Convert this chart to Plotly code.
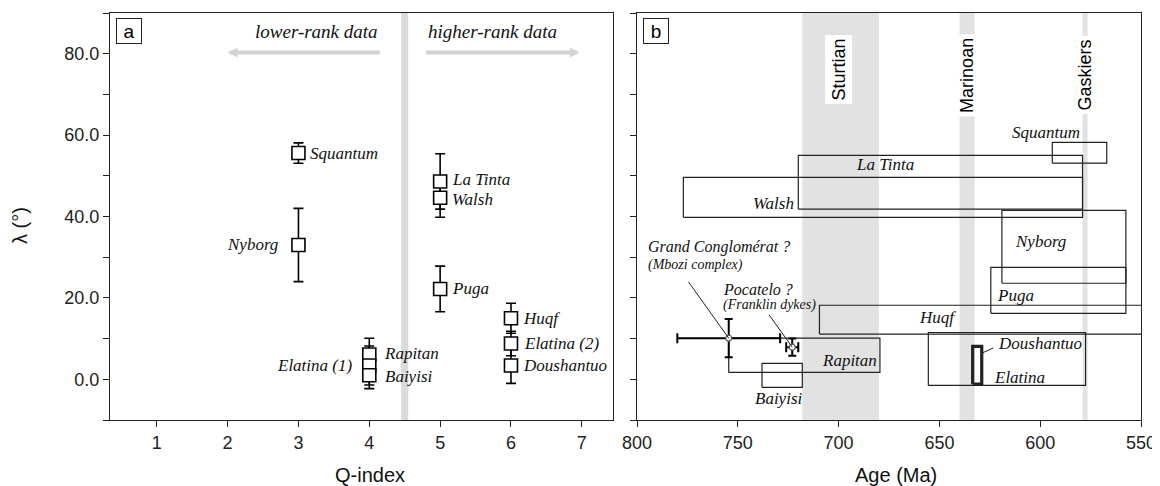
import plotly.graph_objects as go

# ---------------- data: panel a ----------------
qa_names = ["Squantum", "Nyborg", "La Tinta", "Walsh", "Puga", "Rapitan",
            "Elatina (1)", "Baiyisi", "Huqf", "Elatina (2)", "Doushantuo"]
qa_q = [3, 3, 5, 5, 5, 4, 4, 4, 6, 6, 6]
qa_lat = [55.6, 33.0, 48.6, 44.6, 22.2, 6.1, 3.4, 1.0, 15.0, 8.8, 3.4]
qa_err = [2.5, 9.0, 6.8, 4.8, 5.6, 4.0, 4.8, 3.3, 3.7, 3.0, 4.4]

# label placement (style, not data)
qa_side = ["left", "right", "left", "left", "left", "left",
           "right", "left", "left", "left", "left"]   # xanchor of label
qa_shift = [10, -18, 10, 10, 10, 13, -15, 14, 10, 11, 10]
qa_yshift = [0, 0, 2, -2, 0, 1, 0, -1, 0, 0, 0]

# ---------------- data: panel b ----------------
b_names = ["Squantum", "La Tinta", "Walsh", "Nyborg", "Puga", "Huqf",
           "Rapitan", "Baiyisi", "Doushantuo", "Elatina"]
b_age_old = [594, 720, 777, 619, 624.5, 709.5, 754.5, 738, 655.5, 633.5]
b_age_young = [567, 579, 579, 557.5, 557.5, 540, 679.5, 718, 577.5, 629]
b_lat_lo = [53.1, 41.8, 39.8, 23.6, 16.2, 11.1, 1.7, -2.0, -1.5, -1.2]
b_lat_hi = [58.2, 55.0, 49.6, 41.5, 27.5, 18.2, 10.1, 3.9, 11.5, 8.1]
b_width = [1.2, 1.2, 1.2, 1.2, 1.2, 1.2, 1.2, 1.2, 1.2, 3.2]

pt_names = ["Grand Conglomérat ?", "Pocatelo ?"]
pt_notes = ["(Mbozi complex)", "(Franklin dykes)"]
pt_age = [754.5, 723]
pt_age_err = [25.5, 3]
pt_lat = [10.1, 7.9]
pt_lat_err = [4.7, 2.1]

glaciations = ["Sturtian", "Marinoan", "Gaskiers"]
glac_old = [718, 640, 579]
glac_young = [680, 632.5, 576.5]

SANS = "Liberation Sans, Arial, sans-serif"
SERIF = "Liberation Serif, Times New Roman, serif"
W, H = 1160, 486
OFF = 8  # page body margin


def px(x):
    return (x - OFF) / W


def py(y):
    return 1 - (y - OFF) / H


fig = go.Figure()

# panel a points
fig.add_trace(go.Scatter(
    x=qa_q, y=qa_lat, mode="markers",
    marker=dict(symbol="square", size=13, color="white",
                line=dict(color="black", width=1.6)),
    error_y=dict(type="data", array=qa_err, color="black",
                 thickness=1.6, width=5),
    xaxis="x", yaxis="y", showlegend=False))

# panel b boxes
for i in range(len(b_names)):
    a0, a1 = b_age_old[i], b_age_young[i]
    l0, l1 = b_lat_lo[i], b_lat_hi[i]
    fig.add_trace(go.Scatter(
        x=[a0, a1, a1, a0, a0], y=[l0, l0, l1, l1, l0], mode="lines",
        line=dict(color="#222", width=b_width[i]),
        xaxis="x2", yaxis="y2", showlegend=False, hoverinfo="skip"))

# panel b points
fig.add_trace(go.Scatter(
    x=pt_age, y=pt_lat, mode="markers",
    marker=dict(symbol="circle", size=6, color="white",
                line=dict(color="#555", width=1.2)),
    error_x=dict(type="data", array=pt_age_err, color="black",
                 thickness=2, width=5),
    error_y=dict(type="data", array=pt_lat_err, color="black",
                 thickness=2, width=4),
    xaxis="x2", yaxis="y2", showlegend=False))

shapes = []
# panel a divider band
shapes.append(dict(type="rect", xref="x", yref="y domain", x0=4.45, x1=4.55,
                   y0=0, y1=1, fillcolor="#dadada", line=dict(width=0), layer="below"))
for i in range(len(glaciations)):
    shapes.append(dict(type="rect", xref="x2", yref="y2 domain",
                       x0=glac_old[i], x1=glac_young[i], y0=0, y1=1,
                       fillcolor="#e2e2e2", line=dict(width=0), layer="below"))

ann = []
# panel a labels
for i in range(len(qa_names)):
    ann.append(dict(x=qa_q[i], y=qa_lat[i], xref="x", yref="y",
                    text="<i>" + qa_names[i] + "</i>", xanchor=qa_side[i],
                    xshift=qa_shift[i], yshift=qa_yshift[i], showarrow=False,
                    font=dict(family=SERIF, size=17, color="#111")))

# panel labels
for lab, cx in (("a", 129), ("b", 656)):
    ann.append(dict(x=px(cx), y=py(31), xref="paper", yref="paper", text=lab,
                    xanchor="center", yanchor="middle",
                    showarrow=False, font=dict(family=SANS, size=19, color="black"),
                    bordercolor="#222", borderwidth=1, borderpad=2, width=20, height=20,
                    bgcolor="white"))
# axis titles
ann.append(dict(x=px(20), y=py(226), xref="paper", yref="paper", text="λ (°)",
                xanchor="center", yanchor="middle",
                textangle=-90, showarrow=False, font=dict(family=SANS, size=20, color="#111")))
ann.append(dict(x=px(370), y=py(475), xref="paper", yref="paper", text="Q-index",
                xanchor="center", yanchor="middle",
                showarrow=False, font=dict(family=SANS, size=20, color="#111")))
ann.append(dict(x=px(896), y=py(475), xref="paper", yref="paper", text="Age (Ma)",
                xanchor="center", yanchor="middle",
                showarrow=False, font=dict(family=SANS, size=20, color="#111")))
# arrows in panel a
ann.append(dict(x=2.0, y=80.3, ax=4.17, ay=80.3, xref="x", yref="y", axref="x", ayref="y",
                text="", showarrow=True, arrowhead=2, arrowsize=0.5, arrowwidth=4,
                arrowcolor="#d3d3d3"))
ann.append(dict(x=6.97, y=80.3, ax=4.78, ay=80.3, xref="x", yref="y", axref="x", ayref="y",
                text="", showarrow=True, arrowhead=2, arrowsize=0.5, arrowwidth=4,
                arrowcolor="#d3d3d3"))
ann.append(dict(x=4.15, y=85.4, xref="x", yref="y", text="<i>lower-rank data</i>",
                xanchor="right", showarrow=False, font=dict(family=SERIF, size=19, color="#111")))
ann.append(dict(x=4.8, y=85.4, xref="x", yref="y", text="<i>higher-rank data</i>",
                xanchor="left", showarrow=False, font=dict(family=SERIF, size=19, color="#111")))

# glaciation labels
glac_lab_x = [700, 636, 578]
glac_lab_y = [76.0, 74.7, 74.8]
for i in range(len(glaciations)):
    ann.append(dict(x=glac_lab_x[i], y=glac_lab_y[i], xref="x2", yref="y2",
                    text=glaciations[i], textangle=-90, showarrow=False,
                    font=dict(family=SANS, size=18, color="black"),
                    bgcolor="white", borderpad=3))

# panel b box labels
lab_x = [597, 677, 721, 600, 622.5, 651, 680, 730, 622, 624]
lab_y = [60.7, 52.8, 43.2, 33.9, 20.6, 15.2, 4.7, -4.7, 8.8, 0.5]
lab_anchor = ["center", "center", "right", "center", "left", "center",
              "right", "center", "left", "left"]
for i in range(len(b_names)):
    ann.append(dict(x=lab_x[i], y=lab_y[i], xref="x2", yref="y2",
                    text="<i>" + b_names[i] + "</i>", xanchor=lab_anchor[i],
                    showarrow=False, font=dict(family=SERIF, size=17, color="#111")))

# leader line Doushantuo
ann.append(dict(x=629, y=6.4, ax=622.5, ay=7.9, xref="x2", yref="y2",
                axref="x2", ayref="y2", text="", showarrow=True, arrowhead=0,
                arrowwidth=1, arrowcolor="#222"))

# point labels
ann.append(dict(x=759.5, y=32.4, xref="x2", yref="y2", text="<i>" + pt_names[0] + "</i>",
                showarrow=False, font=dict(family=SERIF, size=16, color="#111")))
ann.append(dict(x=795.5, y=28.0, xref="x2", yref="y2", text="<i>" + pt_notes[0] + "</i>",
                xanchor="left", showarrow=False, font=dict(family=SERIF, size=14, color="#111")))
ann.append(dict(x=758.5, y=22.1, xref="x2", yref="y2", text="<i>" + pt_names[1] + "</i>",
                xanchor="left", showarrow=False, font=dict(family=SERIF, size=16, color="#111")))
ann.append(dict(x=758.5, y=18.2, xref="x2", yref="y2", text="<i>" + pt_notes[1] + "</i>",
                xanchor="left", showarrow=False, font=dict(family=SERIF, size=14, color="#111")))
ann.append(dict(x=pt_age[0], y=pt_lat[0], ax=775, ay=24.3, xref="x2", yref="y2",
                axref="x2", ayref="y2", text="", showarrow=True, arrowhead=0,
                arrowwidth=1, arrowcolor="#222", standoff=0))
ann.append(dict(x=pt_age[1], y=pt_lat[1], ax=735, ay=16.2, xref="x2", yref="y2",
                axref="x2", ayref="y2", text="", showarrow=True, arrowhead=0,
                arrowwidth=1, arrowcolor="#222", standoff=0))

axis_common = dict(showline=True, linecolor="#222", linewidth=1, mirror=True,
                   showgrid=False, zeroline=False, ticks="outside", ticklen=6,
                   tickcolor="#222", automargin=False,
                   tickfont=dict(family=SANS, size=18, color="#222"))

fig.update_layout(
    template="none",
    width=W, height=H, margin=dict(l=0, r=0, t=0, b=0, autoexpand=False),
    paper_bgcolor="white", plot_bgcolor="white",
    xaxis=dict(domain=[px(110), px(613)], range=[0.34, 7.44], dtick=1, tick0=1,
               anchor="y", **axis_common),
    yaxis=dict(domain=[py(420), py(13)], range=[-10, 90], dtick=20, tick0=0,
               tickformat=".1f", anchor="x",
               minor=dict(dtick=10, tick0=0, ticks="outside", ticklen=6, tickcolor="#222"),
               **axis_common),
    xaxis2=dict(domain=[px(637), px(1141)], range=[800, 550], dtick=50, tick0=550,
                anchor="y2", **axis_common),
    yaxis2=dict(domain=[py(420), py(13)], range=[-10, 90], dtick=10, tick0=0,
                showticklabels=False, anchor="x2", **axis_common),
    shapes=shapes, annotations=ann,
)

fig.write_html("out.html")
